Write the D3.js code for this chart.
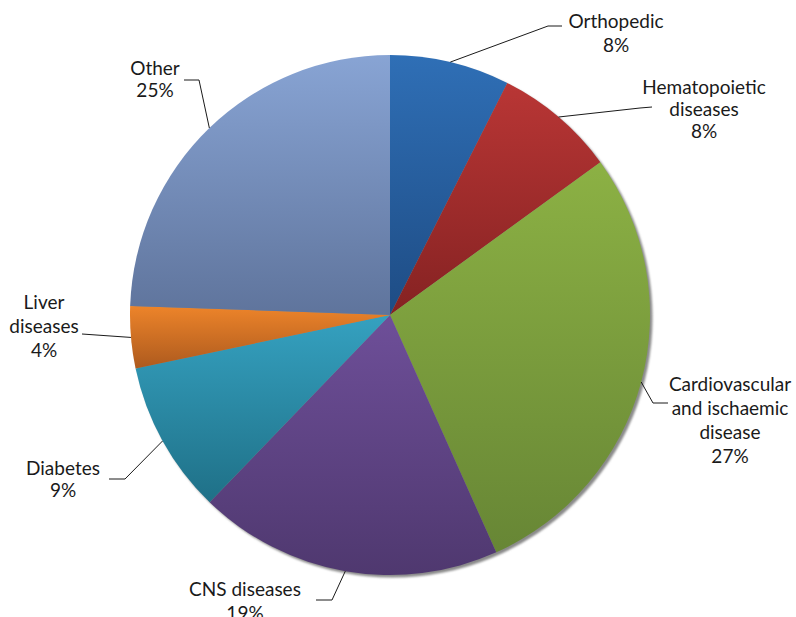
<!DOCTYPE html>
<html>
<head>
<meta charset="utf-8">
<script src="https://cdn.jsdelivr.net/npm/d3@7"></script>
<style>
  html, body { margin: 0; padding: 0; background: #fff; }
  svg { display: block; }
  .lbl { font-family: Lato, "Open Sans", sans-serif; font-size: 19px; fill: #1a1a1a; }
</style>
</head>
<body>
<div id="chart"></div>
<script>
const width = 796;
const height = 617;

// slice order, clockwise from 12 o'clock
const categories = ["Orthopedic", "Hematopoietic diseases", "Cardiovascular and ischaemic disease",
    "CNS diseases", "Diabetes", "Liver diseases", "Other"];
// shares as drawn (angles)
const shares = [7.45, 7.55, 28.3, 18.9, 9.5, 3.85, 24.45];
// percentages as printed in the labels
const percentLabels = ["8%", "8%", "27%", "19%", "9%", "4%", "25%"];
// label lines as printed
const labelLines = [
    ["Orthopedic"],
    ["Hematopoietic", "diseases"],
    ["Cardiovascular", "and ischaemic", "disease"],
    ["CNS diseases"],
    ["Diabetes"],
    ["Liver", "diseases"],
    ["Other"]
];
const topColors = ["#2f6fb6", "#b93635", "#8cb144", "#6e4f99", "#35a1c0", "#ed842a", "#88a4d4"];
const bottomColors = ["#1e4c84", "#852222", "#678635", "#4f386f", "#1f7087", "#ad5a1e", "#5f749c"];

// label placement: text anchor (x, first baseline), line elbow and end
const layout = [
    { x: 616, y: 28, gap: 24, elbow: [548, 26], end: [562, 26] },
    { x: 704, y: 94, gap: 22, elbow: [640, 108], end: [652, 107] },
    { x: 730, y: 391, gap: 24, elbow: [653, 403], end: [668, 403] },
    { x: 245, y: 596, gap: 24, elbow: [332, 600], end: [316, 600] },
    { x: 63, y: 475, gap: 22, elbow: [125, 479], end: [109, 479] },
    { x: 44, y: 309, gap: 24, elbow: [82, 334], end: [82, 334] },
    { x: 155, y: 75, gap: 22, elbow: [199, 80], end: [184, 80] }
];

const cx = 390, cy = 315, radius = 260;

const svg = d3.select("#chart")
    .append("svg")
    .attr("width", width)
    .attr("height", height);

const defs = svg.append("defs");

const shadow = defs.append("filter")
    .attr("id", "shadow")
    .attr("x", "-10%").attr("y", "-10%")
    .attr("width", "120%").attr("height", "120%");
shadow.append("feGaussianBlur").attr("stdDeviation", 0.8);

categories.forEach((c, i) => {
    const g = defs.append("linearGradient")
        .attr("id", "grad" + i)
        .attr("x1", 0).attr("y1", 0)
        .attr("x2", 0).attr("y2", 1);
    g.append("stop").attr("offset", "0%").attr("stop-color", topColors[i]);
    g.append("stop").attr("offset", "100%").attr("stop-color", bottomColors[i]);
});

const pie = d3.pie()
    .sort(null)
    .value(d => d.value);

const data = categories.map((c, i) => ({ name: c, value: shares[i], idx: i }));
const arcs = pie(data);

const arc = d3.arc()
    .innerRadius(0)
    .outerRadius(radius);

const edgeArc = d3.arc()
    .innerRadius(radius)
    .outerRadius(radius);

const g = svg.append("g")
    .attr("transform", `translate(${cx},${cy})`);

// drop shadow behind the pie
g.append("circle")
    .attr("cx", 2.5)
    .attr("cy", 2.5)
    .attr("r", radius)
    .attr("fill", "#8a8a8a")
    .attr("filter", "url(#shadow)");

g.selectAll(".slice")
    .data(arcs)
    .enter()
    .append("path")
    .attr("class", "slice")
    .attr("d", arc)
    .attr("fill", d => `url(#grad${d.data.idx})`);

// leader lines
svg.selectAll(".leader")
    .data(arcs)
    .enter()
    .append("polyline")
    .attr("class", "leader")
    .attr("points", d => {
        const p = edgeArc.centroid(d);
        const l = layout[d.data.idx];
        return [[p[0] + cx, p[1] + cy], l.elbow, l.end].map(q => q.join(",")).join(" ");
    })
    .attr("fill", "none")
    .attr("stroke", "#1a1a1a")
    .attr("stroke-width", 1);

// labels
arcs.forEach(d => {
    const i = d.data.idx;
    const l = layout[i];
    const lines = labelLines[i].concat([percentLabels[i]]);
    const t = svg.append("text")
        .attr("class", "lbl")
        .attr("text-anchor", "middle");
    lines.forEach((s, k) => {
        t.append("tspan")
            .attr("x", l.x)
            .attr("y", l.y + k * l.gap)
            .text(s);
    });
});
</script>
</body>
</html>
